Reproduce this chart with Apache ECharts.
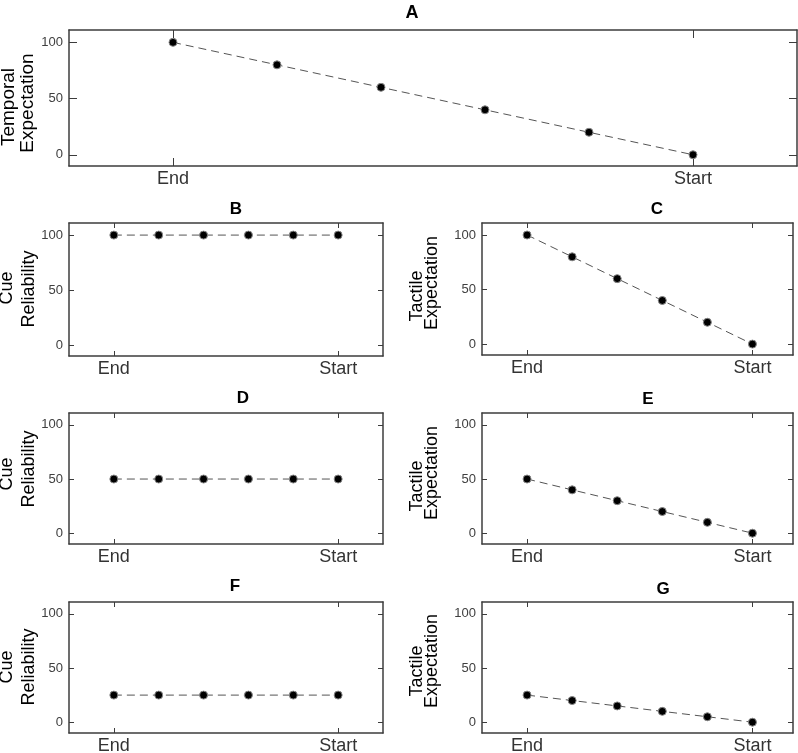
<!DOCTYPE html>
<html><head><meta charset="utf-8">
<script src="https://cdn.jsdelivr.net/npm/echarts@6/dist/echarts.min.js"></script>
<style>html,body{margin:0;padding:0;background:#fff}#c{width:798px;height:753px}</style>
</head><body><div id="c"></div>
<script>
// ---- data ----
const steps = [0, 1, 2, 3, 4, 5];
const temporalA = [100, 80, 60, 40, 20, 0];
const cueB = [100, 100, 100, 100, 100, 100];
const tactileC = [100, 80, 60, 40, 20, 0];
const cueD = [50, 50, 50, 50, 50, 50];
const tactileE = [50, 40, 30, 20, 10, 0];
const cueF = [25, 25, 25, 25, 25, 25];
const tactileG = [25, 20, 15, 10, 5, 0];
const yTickValues = [0, 50, 100];
const xTickValues = [0, 5];
const xTickLabels = ['End', 'Start'];
const panelTitles = ['A', 'B', 'C', 'D', 'E', 'F', 'G'];
const yNameA = ['Temporal', 'Expectation'];
const yNameCue = ['Cue', 'Reliability'];
const yNameTactile = ['Tactile', 'Expectation'];

// ---- layout ----
const FONT = '"Liberation Sans", Arial, Helvetica, sans-serif';
const panels = [
  {data: temporalA, names: yNameA, g: [69, 30, 728, 136], xMax: 6, tick: 8, t: [412, 13.5, 18], nf: 19, nm: [[8.5, 107], [28, 103]]},
  {data: cueB, names: yNameCue, g: [69, 223, 314, 133], xMax: 6, tick: 5, t: [236, 209, 17], nf: 18, nm: [[7.5, 288], [29, 289]]},
  {data: tactileC, names: yNameTactile, g: [482, 223, 311, 132], xMax: 5.9, tick: 5, t: [657, 209, 17], nf: 18, nm: [[417.5, 296], [432.5, 283]]},
  {data: cueD, names: yNameCue, g: [69, 413, 314, 131], xMax: 6, tick: 5, t: [243, 398, 17], nf: 18, nm: [[7.5, 474], [29, 469]]},
  {data: tactileE, names: yNameTactile, g: [482, 413, 311, 131], xMax: 5.9, tick: 5, t: [648, 399, 17], nf: 18, nm: [[417.5, 486], [432.5, 473]]},
  {data: cueF, names: yNameCue, g: [69, 602, 314, 131], xMax: 6, tick: 5, t: [235, 586, 17], nf: 18, nm: [[7.5, 667], [29, 667]]},
  {data: tactileG, names: yNameTactile, g: [482, 602, 311, 131], xMax: 5.9, tick: 5, t: [663, 589.5, 17], nf: 18, nm: [[417.5, 671], [432.5, 661]]}
];

const grids = [], xAxes = [], yAxes = [], series = [], graphics = [];
const AX = '#3c3c3c';
panels.forEach((p, i) => {
  grids.push({left: p.g[0], top: p.g[1], width: p.g[2], height: p.g[3], show: false, containLabel: false, outerBoundsMode: 'none'});
  const axisLine = {show: true, onZero: false, lineStyle: {color: AX, width: 1.5}};
  const xTick = {show: true, inside: true, length: p.tick, customValues: xTickValues, lineStyle: {color: AX, width: 1}};
  const yTick = {show: true, inside: true, length: p.tick, customValues: yTickValues, lineStyle: {color: AX, width: 1}};
  xAxes.push({type: 'value', gridIndex: i, position: 'bottom', min: -1, max: p.xMax,
    axisLine: axisLine, axisTick: xTick, splitLine: {show: false},
    axisLabel: {customValues: xTickValues, formatter: v => xTickLabels[xTickValues.indexOf(v)],
      fontSize: 18, color: '#333', margin: 4, fontFamily: FONT}});
  xAxes.push({type: 'value', gridIndex: i, position: 'top', min: -1, max: p.xMax,
    axisLine: axisLine, axisTick: xTick, splitLine: {show: false}, axisLabel: {show: false}});
  yAxes.push({type: 'value', gridIndex: i, position: 'left', min: -10, max: 111,
    axisLine: axisLine, axisTick: yTick, splitLine: {show: false},
    axisLabel: {customValues: yTickValues, fontSize: 13, color: '#404040', margin: 6, fontFamily: FONT}});
  yAxes.push({type: 'value', gridIndex: i, position: 'right', min: -10, max: 111,
    axisLine: axisLine, axisTick: yTick, splitLine: {show: false}, axisLabel: {show: false}});
  series.push({type: 'line', xAxisIndex: 2 * i, yAxisIndex: 2 * i,
    data: steps.map((s, k) => [s, p.data[k]]),
    symbol: 'circle', symbolSize: 8,
    itemStyle: {color: '#000', borderColor: '#888', borderWidth: 1},
    lineStyle: {color: '#555', width: 1, type: [8, 5]},
    z: 3});
  graphics.push({type: 'text', x: p.t[0], y: p.t[1], style: {text: panelTitles[i], font: 'bold ' + p.t[2] + 'px ' + FONT, fill: '#000', align: 'center', verticalAlign: 'middle'}});
  p.names.forEach((nm, j) => {
    graphics.push({type: 'text', x: p.nm[j][0], y: p.nm[j][1], rotation: Math.PI / 2,
      style: {text: nm, font: p.nf + 'px ' + FONT, fill: '#000', align: 'center', verticalAlign: 'middle'}});
  });
});

const chart = echarts.init(document.getElementById('c'), null, {renderer: 'canvas'});
chart.setOption({
  animation: false,
  backgroundColor: '#fff',
  grid: grids, xAxis: xAxes, yAxis: yAxes, series: series, graphic: graphics
});
</script></body></html>
